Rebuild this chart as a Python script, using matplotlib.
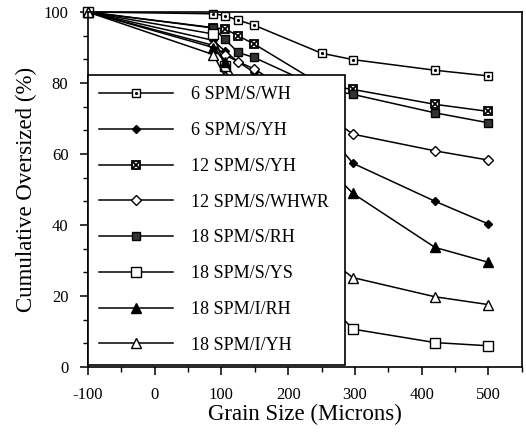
import numpy as np
import matplotlib
matplotlib.use('Agg')
import matplotlib.pyplot as plt
from matplotlib.ticker import MultipleLocator, AutoMinorLocator
from matplotlib.legend_handler import HandlerTuple

plt.rcParams['font.family'] = ['Liberation Serif', 'DejaVu Serif']
plt.rcParams['axes.unicode_minus'] = False

# grain sizes (microns); -100 is the starting point
grain = [-100, 88, 105, 125, 149, 250, 297, 420, 500]

wh6 = [100, 99.5, 99, 97.7, 96.3, 88.4, 86.6, 83.6, 82.0]
yh6 = [100, 92, 89, 86, 83, 68, 57.4, 46.7, 40.3]
yh12 = [100, 95.5, 95.3, 93.3, 91, 79.5, 78.2, 74.0, 72.0]
whwr12 = [100, 90.6, 88, 86, 84, 72, 65.6, 60.9, 58.3]
rh18 = [100, 95.6, 92.4, 88.6, 87.2, 78.5, 76.8, 71.6, 68.8]
ys18 = [100, 93.8, 84.8, 70, 55, 20, 10.7, 6.9, 6.0]
irh18 = [100, 90, 86, 80, 75, 58, 48.9, 33.7, 29.5]
iyh18 = [100, 88, 82, 70, 60, 32, 25.2, 19.8, 17.6]

labels = ['6 SPM/S/WH', '6 SPM/S/YH', '12 SPM/S/YH', '12 SPM/S/WHWR',
          '18 SPM/S/RH', '18 SPM/S/YS', '18 SPM/I/RH', '18 SPM/I/YH']

fig = plt.figure(figsize=(5.26, 4.37), dpi=100)
ax = fig.add_axes([0.167, 0.160, 0.825, 0.8125])

kw = dict(color='black', lw=1.1, clip_on=False)

handles = []
# 6 SPM/S/WH - small open square with a dot
l1, = ax.plot(grain, wh6, marker='s', ms=5.5, mfc='white', mec='black', mew=1, **kw)
d1, = ax.plot(grain, wh6, ls='none', marker='.', ms=2.5, color='black', clip_on=False)
handles.append((l1, d1))
# 6 SPM/S/YH - filled diamond
l2, = ax.plot(grain, yh6, marker='D', ms=4.5, mfc='black', mec='black', **kw)
handles.append(l2)
# 12 SPM/S/YH - square with cross
l3, = ax.plot(grain, yh12, marker='s', ms=6, mfc='white', mec='black', mew=1.3, **kw)
d3, = ax.plot(grain, yh12, ls='none', marker='x', ms=5, mew=1.3, color='black', clip_on=False)
handles.append((l3, d3))
# 12 SPM/S/WHWR - open diamond
l4, = ax.plot(grain, whwr12, marker='D', ms=5, mfc='white', mec='black', mew=1, **kw)
handles.append(l4)
# 18 SPM/S/RH - filled square
l5, = ax.plot(grain, rh18, marker='s', ms=6, mfc='0.2', mec='black', **kw)
handles.append(l5)
# 18 SPM/S/YS - open square
l6, = ax.plot(grain, ys18, marker='s', ms=7, mfc='white', mec='black', mew=1, **kw)
handles.append(l6)
# 18 SPM/I/RH - filled triangle
l7, = ax.plot(grain, irh18, marker='^', ms=6.5, mfc='black', mec='black', **kw)
handles.append(l7)
# 18 SPM/I/YH - open triangle
l8, = ax.plot(grain, iyh18, marker='^', ms=6.5, mfc='white', mec='black', mew=1, **kw)
handles.append(l8)

ax.set_xlim(-100, 550)
ax.set_ylim(0, 100)
ax.xaxis.set_major_locator(MultipleLocator(100))
ax.xaxis.set_minor_locator(MultipleLocator(50))
ax.yaxis.set_major_locator(MultipleLocator(20))
ax.yaxis.set_minor_locator(AutoMinorLocator(3))
ax.tick_params(which='major', direction='out', length=6, width=1.1, labelsize=12, pad=8)
ax.tick_params(which='minor', direction='out', length=3.5, width=1)
for s in ax.spines.values():
    s.set_linewidth(1.2)

ax.set_xlabel('Grain Size (Microns)', fontsize=16.5, labelpad=1)
ax.set_ylabel('Cumulative Oversized (%)', fontsize=16.5, labelpad=5)

leg = ax.legend(handles, labels, loc='lower left', bbox_to_anchor=(0, 0.006, 0.592, 0.814),
                mode='expand', borderaxespad=0, fontsize=13, handlelength=4.1,
                handletextpad=1.0, labelspacing=1.04, borderpad=0.62, numpoints=1,
                fancybox=False, framealpha=1, edgecolor='black',
                handler_map={tuple: HandlerTuple(ndivide=1)})
leg.get_frame().set_linewidth(1.2)
leg.set_zorder(10)

fig.savefig('out.png', dpi=100)
